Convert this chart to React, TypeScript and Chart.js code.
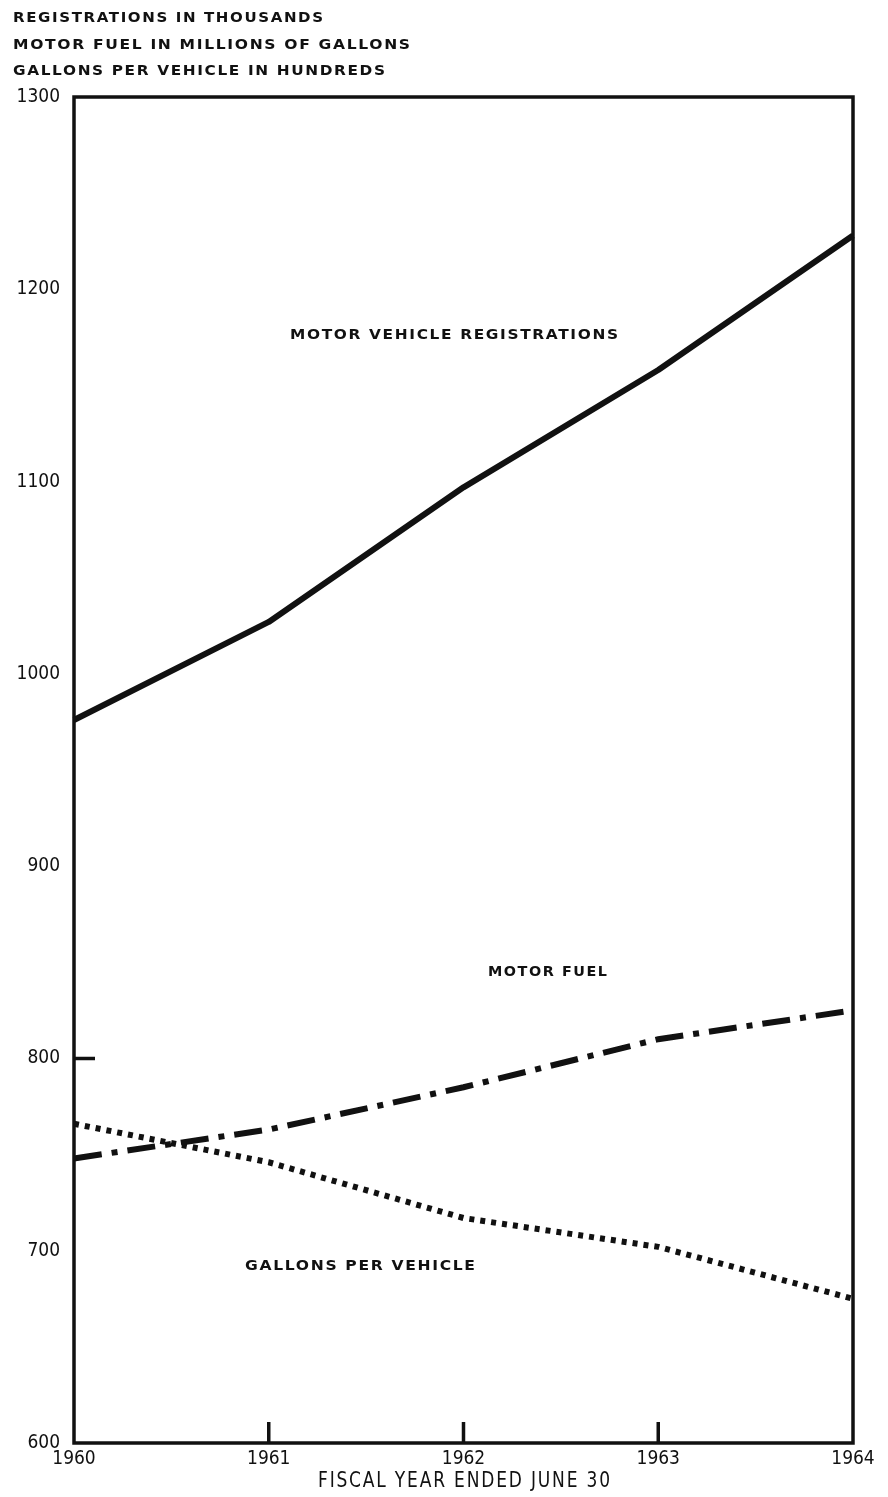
import React, { useEffect, useRef } from "react";
import { Chart, registerables } from "chart.js";

Chart.register(...registerables);

const years = ["1960", "1961", "1962", "1963", "1964"];
const registrations = [976, 1027, 1097, 1158, 1228];
const motorFuel = [748, 763, 785, 810, 825];
const gallonsPerVehicle = [766, 746, 717, 702, 675];
const yMin = 600;
const yMax = 1300;
const yStep = 100;
const xInnerTicks = ["1961", "1962", "1963"];
const yInnerTicks = [800];

const INK = "#111111";

function fitText(
  ctx: CanvasRenderingContext2D,
  text: string,
  x1: number,
  x2: number,
  yc: number,
  font: string,
  spacing: number
) {
  ctx.save();
  ctx.font = font;
  (ctx as any).letterSpacing = spacing + "px";
  ctx.textBaseline = "middle";
  ctx.textAlign = "left";
  ctx.fillStyle = INK;
  const w = ctx.measureText(text).width - spacing;
  const s = (x2 - x1) / w;
  ctx.translate(x1, yc);
  ctx.scale(s, 1);
  ctx.fillText(text, 0, 0);
  ctx.restore();
}

const decorPlugin = {
  id: "decor",
  afterDraw(chart: any) {
    const ctx = chart.ctx as CanvasRenderingContext2D;
    const { left, right, top, bottom } = chart.chartArea;
    const xs = chart.scales.x;
    const ys = chart.scales.y;
    ctx.save();
    ctx.strokeStyle = INK;
    ctx.lineWidth = 3.5;
    ctx.strokeRect(left, top, right - left, bottom - top);
    ctx.beginPath();
    xInnerTicks.forEach((lab) => {
      const px = xs.getPixelForValue(years.indexOf(lab));
      ctx.moveTo(px, bottom);
      ctx.lineTo(px, bottom - 21);
    });
    yInnerTicks.forEach((v) => {
      const py = ys.getPixelForValue(v);
      ctx.moveTo(left, py);
      ctx.lineTo(left + 21, py);
    });
    ctx.stroke();
    ctx.restore();

    const small = 'bold 14px "DejaVu Sans"';
    fitText(ctx, "REGISTRATIONS IN THOUSANDS", 13, 323, 18, small, 1.5);
    fitText(ctx, "MOTOR FUEL IN MILLIONS OF GALLONS", 13, 410, 45, small, 1.5);
    fitText(ctx, "GALLONS PER VEHICLE IN HUNDREDS", 13, 385, 71, small, 1.5);
    fitText(ctx, "MOTOR VEHICLE REGISTRATIONS", 290, 618, 335, small, 1.5);
    fitText(ctx, "MOTOR FUEL", 488, 607, 972, small, 1.5);
    fitText(ctx, "GALLONS PER VEHICLE", 245, 475, 1266, small, 1.5);
    fitText(
      ctx,
      "FISCAL YEAR ENDED JUNE 30",
      318,
      610,
      1482,
      '21px "DejaVu Sans Condensed"',
      2
    );
  },
};

export default function App() {
  const ref = useRef<HTMLCanvasElement | null>(null);
  useEffect(() => {
    document.body.style.margin = "0";
    document.body.style.background = "#ffffff";
    const canvas = ref.current;
    if (!canvas) return;
    const tickFont = { family: '"DejaVu Sans Condensed", sans-serif', size: 19 };
    const chart = new Chart(canvas, {
      type: "line",
      data: {
        labels: years,
        datasets: [
          {
            label: "Motor vehicle registrations",
            data: registrations,
            borderColor: INK,
            borderWidth: 6,
            pointRadius: 0,
            tension: 0,
            borderCapStyle: "butt",
            borderJoinStyle: "round",
          },
          {
            label: "Motor fuel",
            data: motorFuel,
            borderColor: INK,
            borderWidth: 6,
            pointRadius: 0,
            tension: 0,
            borderDash: [28, 10, 6, 10],
            borderCapStyle: "butt",
          },
          {
            label: "Gallons per vehicle",
            data: gallonsPerVehicle,
            borderColor: INK,
            borderWidth: 6,
            pointRadius: 0,
            tension: 0,
            borderDash: [5, 6],
            borderCapStyle: "butt",
          },
        ],
      },
      options: {
        animation: false,
        responsive: false,
        maintainAspectRatio: false,
        layout: { padding: { top: 97, right: 35, left: 0, bottom: 0 } },
        plugins: {
          legend: { display: false },
          tooltip: { enabled: false },
          title: { display: false },
        },
        scales: {
          x: {
            type: "category",
            offset: false,
            grid: { display: false, drawTicks: false },
            border: { display: false },
            ticks: { color: INK, font: tickFont, padding: 5, maxRotation: 0, autoSkip: false },
            afterFit: (s: any) => {
              s.height = 54;
            },
          },
          y: {
            min: yMin,
            max: yMax,
            grid: { display: false, drawTicks: false },
            border: { display: false },
            ticks: {
              stepSize: yStep,
              color: INK,
              font: tickFont,
              padding: 14,
              callback: (v: any) => String(v),
            },
            afterFit: (s: any) => {
              s.width = 74;
            },
          },
        },
      },
      plugins: [decorPlugin],
    } as any);
    return () => chart.destroy();
  }, []);
  return (
    <div style={{ width: 888, height: 1497, background: "#fff" }}>
      <canvas ref={ref} width={888} height={1497} style={{ width: 888, height: 1497, display: "block" }} />
    </div>
  );
}
